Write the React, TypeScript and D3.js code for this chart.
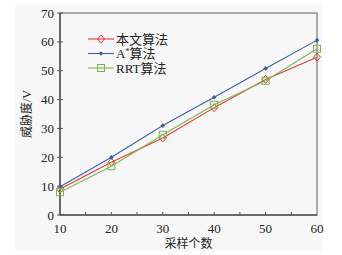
import { useEffect, useRef } from 'react';
import * as d3 from 'd3';

const samples = [10, 20, 30, 40, 50, 60];
const oursValues = [9.0, 18.3, 26.7, 37.2, 47.0, 54.7];
const aStarValues = [9.8, 20.0, 31.0, 40.8, 50.8, 60.6];
const rrtValues = [7.9, 16.9, 27.8, 38.2, 46.5, 57.6];
const seriesNames = ['本文算法', 'A*算法', 'RRT算法'];
const yTicks = [0, 10, 20, 30, 40, 50, 60, 70];
const xTicks = [10, 20, 30, 40, 50, 60];

const FONT = '"Liberation Serif", "Noto Sans CJK SC", serif';

export default function App() {
    const svgRef = useRef<SVGSVGElement>(null);
    const width = 342;
    const height = 255;
    const margin = { top: 13, right: 25, bottom: 40, left: 60 };

    useEffect(() => {
        if (!svgRef.current) return;
        const svg = d3.select(svgRef.current);
        svg.selectAll('*').remove();

        const x = d3.scaleLinear().domain([10, 60]).range([margin.left, width - margin.right]);
        const y = d3.scaleLinear().domain([0, 70]).range([height - margin.bottom, margin.top]);

        // light panel background
        svg.append('rect')
            .attr('x', 15).attr('y', 4)
            .attr('width', 307).attr('height', 247)
            .attr('fill', '#f7f7f7');

        const axisColor = '#555';

        // frame
        svg.append('rect')
            .attr('x', x(10)).attr('y', y(70))
            .attr('width', x(60) - x(10)).attr('height', y(0) - y(70))
            .attr('fill', 'none')
            .attr('stroke', '#777')
            .attr('stroke-width', 1.2);
        svg.append('line')
            .attr('x1', x(10)).attr('x2', x(10)).attr('y1', y(0)).attr('y2', y(70))
            .attr('stroke', axisColor).attr('stroke-width', 1.5);
        svg.append('line')
            .attr('x1', x(10)).attr('x2', x(60)).attr('y1', y(0)).attr('y2', y(0))
            .attr('stroke', axisColor).attr('stroke-width', 1.5);

        // y ticks
        yTicks.forEach(t => {
            svg.append('line')
                .attr('x1', x(10) - 3).attr('x2', x(10) + 3)
                .attr('y1', y(t)).attr('y2', y(t))
                .attr('stroke', axisColor).attr('stroke-width', 1);
            svg.append('text')
                .attr('x', x(10) - 6).attr('y', y(t) + 4.5)
                .attr('text-anchor', 'end')
                .attr('font-family', FONT).attr('font-size', 13)
                .attr('fill', '#222')
                .text(t);
        });

        // x ticks (minor every 5)
        d3.range(15, 60, 5).forEach(t => {
            svg.append('line')
                .attr('x1', x(t)).attr('x2', x(t))
                .attr('y1', y(0)).attr('y2', y(0) - 3)
                .attr('stroke', axisColor).attr('stroke-width', 1);
        });
        xTicks.forEach(t => {
            svg.append('text')
                .attr('x', x(t)).attr('y', y(0) + 18)
                .attr('text-anchor', 'middle')
                .attr('font-family', FONT).attr('font-size', 13)
                .attr('fill', '#222')
                .text(t);
        });

        svg.append('text')
            .attr('x', (x(10) + x(60)) / 2).attr('y', 248)
            .attr('text-anchor', 'middle')
            .attr('font-family', FONT).attr('font-size', 12)
            .attr('fill', '#222')
            .text('采样个数');

        svg.append('text')
            .attr('transform', `translate(31,${(y(0) + y(70)) / 2}) rotate(-90)`)
            .attr('text-anchor', 'middle')
            .attr('font-family', FONT).attr('font-size', 12)
            .attr('fill', '#222')
            .text('威胁度/V');

        const series = [
            { name: seriesNames[0], values: oursValues, color: '#e0393a', marker: 'diamond' },
            { name: seriesNames[1], values: aStarValues, color: '#3d62a8', marker: 'star' },
            { name: seriesNames[2], values: rrtValues, color: '#7cb94c', marker: 'square' },
        ];

        const line = d3.line<number>()
            .x((_, i) => x(samples[i]))
            .y(d => y(d));

        const drawMarker = (g: d3.Selection<SVGGElement, unknown, null, undefined>, kind: string, cx: number, cy: number, color: string) => {
            if (kind === 'diamond') {
                g.append('path')
                    .attr('d', `M${cx},${cy - 4}L${cx + 3.5},${cy}L${cx},${cy + 4}L${cx - 3.5},${cy}Z`)
                    .attr('fill', 'none').attr('stroke', color).attr('stroke-width', 1);
            } else if (kind === 'square') {
                g.append('rect')
                    .attr('x', cx - 3.5).attr('y', cy - 3.5)
                    .attr('width', 7).attr('height', 7)
                    .attr('fill', 'none').attr('stroke', color).attr('stroke-width', 1);
            } else {
                g.append('path')
                    .attr('d', d3.symbol().type(d3.symbolDiamond2).size(14)() || '')
                    .attr('transform', `translate(${cx},${cy})`)
                    .attr('fill', color);
            }
        };

        series.forEach(s => {
            const g = svg.append('g');
            g.append('path')
                .datum(s.values)
                .attr('d', line)
                .attr('fill', 'none')
                .attr('stroke', s.color)
                .attr('stroke-width', 1.1);
            s.values.forEach((v, i) => drawMarker(g, s.marker, x(samples[i]), y(v), s.color));
        });

        // legend
        series.forEach((s, i) => {
            const ly = 39 + i * 14.5;
            const g = svg.append('g');
            g.append('line')
                .attr('x1', 88).attr('x2', 114).attr('y1', ly).attr('y2', ly)
                .attr('stroke', s.color).attr('stroke-width', 1.1);
            drawMarker(g, s.marker, 101, ly, s.color);
            const txt = g.append('text')
                .attr('x', 116).attr('y', ly + 4.5)
                .attr('font-family', FONT).attr('font-size', 13)
                .attr('fill', '#222');
            const star = s.name.indexOf('*');
            if (star >= 0) {
                txt.append('tspan').text(s.name.slice(0, star));
                txt.append('tspan').attr('dy', -4).attr('font-size', 8).text('*');
                txt.append('tspan').attr('dy', 4).text(s.name.slice(star + 1));
            } else {
                txt.text(s.name);
            }
        });
    }, []);

    return (
        <svg
            ref={svgRef}
            width={width}
            height={height}
            style={{ position: 'absolute', left: 0, top: 0, background: '#fff' }}
        />
    );
}
